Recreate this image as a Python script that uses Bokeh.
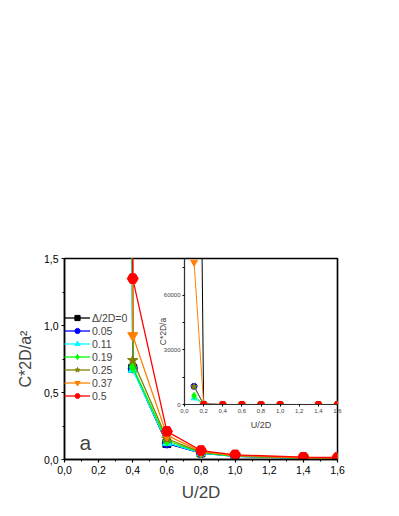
from bokeh.plotting import figure
from bokeh.models import ColumnDataSource, Legend, LegendItem, FixedTicker, Label, Range1d
from bokeh.layouts import column
from bokeh.embed import file_html
from bokeh.resources import INLINE

# ---------------- data ----------------
u_2d = [0.1, 0.2, 0.4, 0.6, 0.8, 1.0, 1.4, 1.6]
series_labels = ["Δ/2D=0", "0.05", "0.11", "0.19", "0.25", "0.37", "0.5"]
c_delta_0 = [5.0e5, 300.0, 0.68, 0.12, 0.050, 0.025, 0.010, 0.005]
c_delta_005 = [10000.0, 60.0, 0.68, 0.12, 0.048, 0.024, 0.009, 0.005]
c_delta_011 = [3500.0, 40.0, 0.67, 0.125, 0.048, 0.024, 0.009, 0.005]
c_delta_019 = [4800.0, 50.0, 0.69, 0.14, 0.052, 0.026, 0.010, 0.006]
c_delta_025 = [9800.0, 80.0, 0.74, 0.155, 0.055, 0.027, 0.011, 0.006]
c_delta_037 = [78000.0, 150.0, 0.925, 0.18, 0.060, 0.030, 0.013, 0.008]
c_delta_05 = [float("nan"), 30.0, 1.35, 0.21, 0.067, 0.035, 0.017, 0.015]

x_ticks = [0.0, 0.2, 0.4, 0.6, 0.8, 1.0, 1.2, 1.4, 1.6]
x_tick_labels = ["0,0", "0,2", "0,4", "0,6", "0,8", "1,0", "1,2", "1,4", "1,6"]
x_minor = [0.1, 0.3, 0.5, 0.7, 0.9, 1.1, 1.3, 1.5]
y_ticks = [0.0, 0.5, 1.0, 1.5]
y_tick_labels = ["0,0", "0,5", "1,0", "1,5"]
y_minor = [0.25, 0.75, 1.25]
inset_y_ticks = [0, 30000, 60000]
inset_y_tick_labels = ["0", "30000", "60000"]
inset_y_minor = [15000, 45000, 75000]

all_series = [c_delta_0, c_delta_005, c_delta_011, c_delta_019,
              c_delta_025, c_delta_037, c_delta_05]
colors = ["#000000", "#0000FF", "#00FFFF", "#00FF00", "#808000", "#FF8000", "#FF0000"]
markers = ["square", "circle", "triangle", "diamond", "star", "inverted_triangle", "hex"]
main_sizes = [8, 9, 9, 11, 11, 10, 11]
inset_sizes = [5, 6, 6, 7, 7, 7, 7]

FONT = "Liberation Sans"

# ---------------- main figure ----------------
p = figure(width=391, height=508, x_range=Range1d(0, 1.6), y_range=Range1d(0, 1.5),
           output_backend="svg", toolbar_location=None,
           min_border_left=64, min_border_right=54, min_border_top=258, min_border_bottom=49)
p.grid.visible = False
p.outline_line_color = "black"
p.outline_line_width = 1.5

for ax in (p.xaxis[0], p.yaxis[0]):
    ax.axis_line_width = 1.5
    ax.major_tick_line_width = 1.2
    ax.minor_tick_line_width = 1.0
    ax.major_tick_out = 3
    ax.major_tick_in = 0
    ax.minor_tick_out = 2
    ax.minor_tick_in = 0
    ax.major_label_text_font = FONT
    ax.major_label_text_font_size = "10.5px"
    ax.major_label_text_color = "black"
    ax.major_label_standoff = 3
    ax.axis_label_text_font = FONT
    ax.axis_label_text_font_style = "normal"

p.xaxis.ticker = FixedTicker(ticks=x_ticks, minor_ticks=x_minor)
p.xaxis.major_label_overrides = dict(zip(x_ticks, x_tick_labels))
p.yaxis.ticker = FixedTicker(ticks=y_ticks, minor_ticks=y_minor)
p.yaxis.major_label_overrides = dict(zip(y_ticks, y_tick_labels))

p.xaxis.axis_label = "U/2D"
p.xaxis.axis_label_text_font_size = "17px"
p.xaxis.axis_label_standoff = 6
p.yaxis.axis_label = "C*2D/a²"
p.yaxis.axis_label_text_font_size = "16px"
p.yaxis.axis_label_standoff = 7

items = []
for lab, ys, col, mk, sz in zip(series_labels, all_series, colors, markers, main_sizes):
    src = ColumnDataSource(dict(x=u_2d, y=ys))
    r_line = p.line("x", "y", source=src, line_color=col, line_width=1.3)
    r_pts = p.scatter("x", "y", source=src, marker=mk, size=sz,
                      fill_color=col, line_color=col)
    items.append(LegendItem(label=lab, renderers=[r_line, r_pts]))

legend = Legend(items=items, location=(0, 57), padding=0, margin=0, spacing=0,
                glyph_width=26, glyph_height=13, label_height=13, label_standoff=2,
                label_text_font=FONT, label_text_font_size="10.5px",
                background_fill_alpha=0, border_line_alpha=0)
p.add_layout(legend, "center")

p.add_layout(Label(x=15, y=17, x_units="screen", y_units="screen", text="a",
                   text_align="left", text_baseline="alphabetic",
                   text_font=FONT, text_font_size="21px"))

# ---------------- inset figure (overlaid, transparent) ----------------
q = figure(width=271, height=178, x_range=Range1d(0, 1.6), y_range=Range1d(0, 80000),
           output_backend="svg", toolbar_location=None,
           min_border_left=40, min_border_right=2, min_border_top=2, min_border_bottom=30)
q.grid.visible = False
q.background_fill_alpha = 0
q.border_fill_alpha = 0
q.outline_line_color = "black"
q.outline_line_width = 1.2

for ax in (q.xaxis[0], q.yaxis[0]):
    ax.axis_line_width = 1.0
    ax.axis_line_color = "#333333"
    ax.major_tick_out = 2
    ax.major_tick_in = 0
    ax.minor_tick_out = 2
    ax.minor_tick_in = 0
    ax.major_label_text_font = FONT
    ax.major_label_text_font_size = "6px"
    ax.major_label_standoff = 2
    ax.axis_label_text_font = FONT
    ax.axis_label_text_font_style = "normal"

q.xaxis.ticker = FixedTicker(ticks=x_ticks, minor_ticks=[])
q.xaxis.major_label_overrides = dict(zip(x_ticks, x_tick_labels))
q.yaxis.ticker = FixedTicker(ticks=inset_y_ticks, minor_ticks=inset_y_minor)
q.yaxis.major_label_overrides = dict(zip(inset_y_ticks, inset_y_tick_labels))

q.xaxis.axis_label = "U/2D"
q.xaxis.axis_label_text_font_size = "9px"
q.xaxis.axis_label_standoff = 4
q.yaxis.axis_label = "C*2D/a"
q.yaxis.axis_label_text_font_size = "8.5px"
q.yaxis.axis_label_standoff = -7

for ys, col, mk, sz in zip(all_series, colors, markers, inset_sizes):
    src = ColumnDataSource(dict(x=u_2d, y=ys))
    q.line("x", "y", source=src, line_color=col, line_width=1.0)
    q.scatter("x", "y", source=src, marker=mk, size=sz, fill_color=col, line_color=col)

q.margin = (-252, 0, 0, 120)

layout = column(p, q, spacing=0)
open("out.html", "w").write(file_html(layout, INLINE))
